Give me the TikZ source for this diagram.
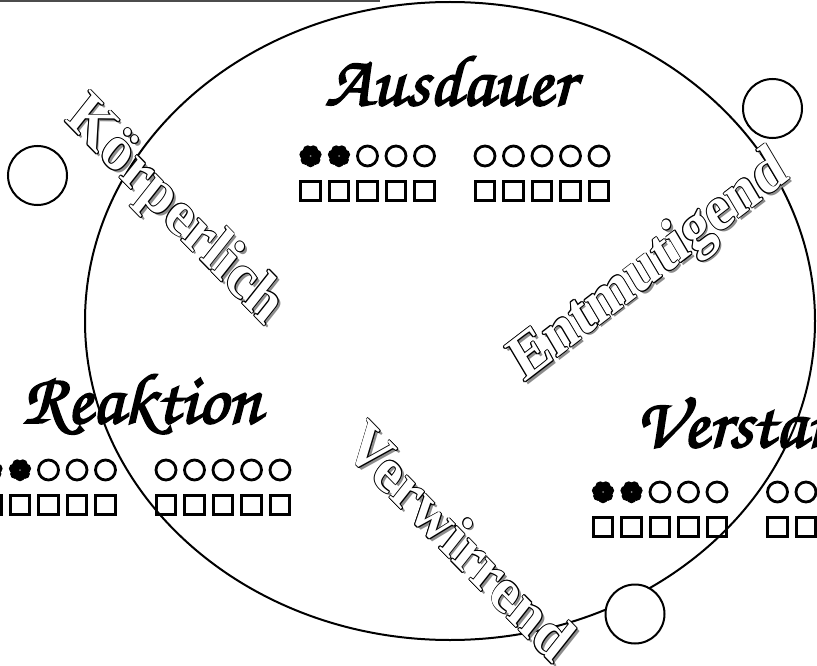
\documentclass[tikz,border=0pt]{standalone}
\usepackage{fontspec}
\usetikzlibrary{shapes.geometric}
\newfontfamily\zierschrift[FakeBold=2.5]{texgyrechorus-mediumitalic.otf}
\newfontfamily\gotik{Liberation Serif}

\providecommand{\werte}[4]{
    \foreach \i in {1,...,10}{
        \pgfmathsetmacro{\px}{#2+28.5*(\i-1)+32*(\i>5)}
        \ifnum\i>#4
            \node[kreis] (#1-k\i) at (\px,#3) {};
        \else
            \node[punkt] (#1-k\i) at (\px,#3) {};
            \foreach \w in {90,141.4,...,400}
                \fill ([shift={(\w:6.3)}]#1-k\i) circle (5);
            \fill (#1-k\i) circle (7);
            \fill[gray] (#1-k\i) circle (1);
        \fi
        \node[kasten] (#1-q\i) at (\px,#3+35) {};
    }
}
\providecommand{\gotisch}[4]{
    \node[schatten, rotate=#3] at ([shift={(2.5,2.5)}] #2) {#4};
    \foreach \w in {0,45,...,315}
        \node[umriss, rotate=#3] at ([shift={(\w:0.9)}] #2) {#4};
    \node[fuellung, rotate=#3] (#1) at (#2) {#4};
}

\begin{document}
\begin{tikzpicture}[
    x=1pt, y=-1pt,
    titel/.style={anchor=base west, inner sep=0pt, xscale=1.03, font=\zierschrift\fontsize{72}{72}\selectfont},
    kreis/.style={draw, circle, line width=2.8pt, minimum size=20pt, inner sep=0pt},
    punkt/.style={circle, minimum size=23pt, inner sep=0pt},
    kasten/.style={draw, rectangle, line width=3pt, minimum size=19.5pt, inner sep=0pt},
    ring/.style={draw, circle, fill=white, line width=2pt, minimum size=59pt, inner sep=0pt},
    wort/.style={inner sep=0pt, xscale=0.88, font=\gotik\bfseries\fontsize{65}{65}\selectfont},
    schatten/.style={wort, text=black!45},
    umriss/.style={wort, text=black},
    fuellung/.style={wort, text=white}
]
    \useasboundingbox (0,0) rectangle (817,666);

    % LINIE OBEN
    \coordinate (L1) at (0,0.8);
    \coordinate (L2) at (380,0.8);
    \draw[black!70, line width=1.6pt] (L1) -- (L2);

    % OVAL UND KREISE
    \node[draw, ellipse, line width=2pt, minimum width=730pt, minimum height=638pt, inner sep=0pt] (oval) at (450,321) {};
    \node[ring] (K1) at (37.5,175.5) {};
    \node[ring] (K2) at (772.5,108.5) {};
    \node[ring] (K3) at (635,614) {};

    % EIGENSCHAFTEN
    \node[titel] (ausdauer) at (325,105) {Ausdauer};
    \werte{A}{310.5}{156}{2}

    \node[titel] (reaktion) at (22,423) {Reaktion};
    \werte{R}{-8.5}{470}{2}

    \node[titel] (verstand) at (635,447) {Verstand};
    \werte{V}{603}{492}{2}

    % WOERTER
    \gotisch{koerper}{174,212}{-42}{Körperlich}
    \gotisch{entmut}{650,268}{34}{Entmutigend}
    \gotisch{verwirr}{461,541}{-42}{Verwirrend}

\end{tikzpicture}
\end{document}
